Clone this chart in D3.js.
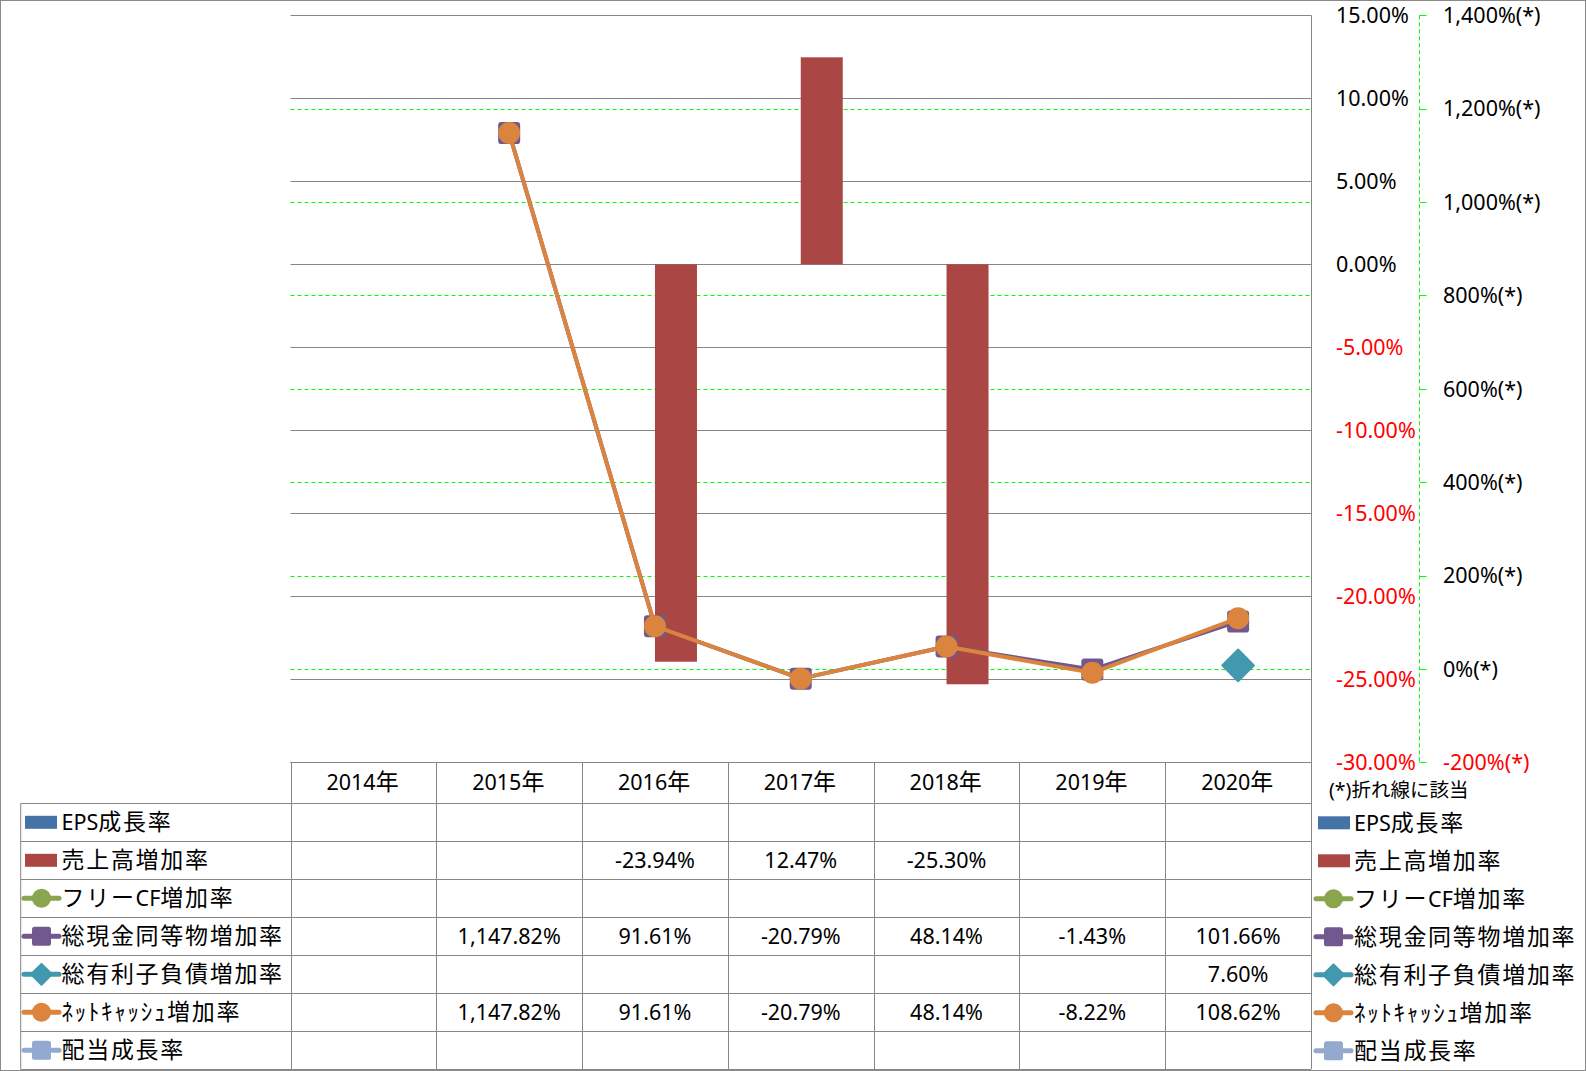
<!DOCTYPE html>
<html><head><meta charset="utf-8">
<script src="https://cdn.jsdelivr.net/npm/d3@7"></script>
<style>html,body{margin:0;padding:0;background:#fff}svg{display:block}</style>
</head><body>
<svg id="c" width="1586" height="1071"></svg>
<script>
// ---------- data ----------
const years = ['2014年','2015年','2016年','2017年','2018年','2019年','2020年'];
const epsGrowth      = [null,null,null,null,null,null,null];
const salesGrowth    = [null,null,-23.94,12.47,-25.30,null,null];
const fcfGrowth      = [null,null,null,null,null,null,null];
const cashGrowth     = [null,1147.82,91.61,-20.79,48.14,-1.43,101.66];
const debtGrowth     = [null,null,null,null,null,null,7.60];
const netCashGrowth  = [null,1147.82,91.61,-20.79,48.14,-8.22,108.62];
const dividendGrowth = [null,null,null,null,null,null,null];
const seriesNames = ['EPS成長率','売上高増加率','フリーCF増加率','総現金同等物増加率','総有利子負債増加率','ﾈｯﾄｷｬｯｼｭ増加率','配当成長率'];
const seriesValues = [epsGrowth,salesGrowth,fcfGrowth,cashGrowth,debtGrowth,netCashGrowth,dividendGrowth];
const seriesColors = ['#4572A7','#AA4643','#89A54E','#71588F','#4198AF','#DB843D','#93A9CF'];
const seriesKinds  = ['bar','bar','circle','square','diamond','circle','square'];
const leftTicks  = [15,10,5,0,-5,-10,-15,-20,-25,-30];
const rightTicks = [1400,1200,1000,800,600,400,200,0,-200];
const footNote = '(*)折れ線に該当';

// ---------- layout ----------
const svg = d3.select('#c');
const plotL = 290.5, plotR = 1311, plotT = 15.3, plotB = 762.3;
const FONT = '"Noto Sans","Noto Sans CJK JP",sans-serif';
const LAT = 21.5, CJK = 23, LS = 1.7;
const loc = d3.formatLocale({decimal: '.', thousands: ',', grouping: [3], currency: ['', ''], minus: '-'});
const fmt2 = loc.format('.2f'), fmtC2 = loc.format(',.2f'), fmtC = loc.format(',');

const x = d3.scaleBand().domain(years).range([plotL, plotR]).padding(0);
const yL = d3.scaleLinear().domain([-30, 15]).range([plotB, plotT]);
const yR = d3.scaleLinear().domain([-200, 1400]).range([plotB, plotT]);
const barW = 42;
const xs = d3.scaleBand().domain([0,1]).range([-barW, barW]);

function rich(sel, str, lat, cjk, ls) {
  const runs = [];
  for (const ch of str) {
    const isC = ch.charCodeAt(0) > 0x2000;
    if (runs.length && runs[runs.length-1].c === isC) runs[runs.length-1].s += ch;
    else runs.push({c: isC, s: ch});
  }
  runs.forEach(r => sel.append('tspan')
    .attr('font-size', r.c ? cjk : lat)
    .attr('letter-spacing', r.c ? ls : 0)
    .text(r.s));
  return sel;
}

// outer border
svg.append('rect').attr('x',0.5).attr('y',0.5).attr('width',1585).attr('height',1070)
  .attr('fill','#fff').attr('stroke','#8a8a8a').attr('stroke-width',1);

const g = svg.append('g').attr('font-family', FONT);

// primary gridlines (gray)
g.append('g').selectAll('line').data(leftTicks).join('line')
  .attr('x1', plotL).attr('x2', plotR)
  .attr('y1', d => Math.round(yL(d)) + 0.5).attr('y2', d => Math.round(yL(d)) + 0.5)
  .attr('stroke', '#868686').attr('stroke-width', 1);

// secondary gridlines (green dashed)
g.append('g').selectAll('line').data(rightTicks.filter(d => d !== 1400)).join('line')
  .attr('x1', plotL).attr('x2', plotR)
  .attr('y1', d => Math.round(yR(d)) + 0.5).attr('y2', d => Math.round(yR(d)) + 0.5)
  .attr('stroke', '#00ff00').attr('stroke-width', 1).attr('stroke-dasharray', '4,3');

// plot right border
g.append('line').attr('x1', plotR + 0.5).attr('x2', plotR + 0.5)
  .attr('y1', plotT).attr('y2', 1069.3).attr('stroke', '#868686');

// left axis labels
g.append('g').selectAll('text').data(leftTicks).join('text')
  .attr('x', 1336).attr('y', d => yL(d) + 7.7)
  .attr('font-size', LAT)
  .attr('fill', d => d < 0 ? '#ff0000' : '#000')
  .text(d => fmt2(d) + '%');

// secondary axis (green dashed line + ticks)
const axX = 1419.5;
g.append('line').attr('x1', axX).attr('x2', axX).attr('y1', plotT).attr('y2', plotB)
  .attr('stroke', '#00ff00').attr('stroke-dasharray', '4,3');
g.append('g').selectAll('line').data(rightTicks).join('line')
  .attr('x1', axX).attr('x2', axX + 7)
  .attr('y1', d => Math.round(yR(d)) + 0.5).attr('y2', d => Math.round(yR(d)) + 0.5)
  .attr('stroke', '#00ff00');
g.append('g').selectAll('text').data(rightTicks).join('text')
  .attr('x', 1443).attr('y', d => yR(d) + 7.7)
  .attr('font-size', LAT)
  .attr('fill', d => d < 0 ? '#ff0000' : '#000')
  .text(d => fmtC(d) + '%(*)');

// bars
[0,1].forEach(si => {
  g.append('g').selectAll('rect')
    .data(years.map((y, i) => ({y, v: seriesValues[si][i]})).filter(d => d.v != null))
    .join('rect')
    .attr('x', d => x(d.y) + x.bandwidth()/2 + xs(si))
    .attr('width', xs.bandwidth())
    .attr('y', d => Math.min(yL(d.v), yL(0)))
    .attr('height', d => Math.abs(yL(d.v) - yL(0)))
    .attr('fill', seriesColors[si]);
});

// marker drawer
function marker(sel, kind, color, size) {
  if (kind === 'circle') {
    sel.append('circle').attr('r', size/2).attr('fill', color);
  } else if (kind === 'square') {
    sel.append('rect').attr('x', -size/2).attr('y', -size/2).attr('width', size).attr('height', size)
      .attr('rx', size*0.14).attr('fill', color);
  } else if (kind === 'diamond') {
    const h = size*0.7;
    sel.append('path').attr('d', d3.symbol().type(d3.symbolSquare).size(h*h*1.0)())
      .attr('transform','rotate(45)').attr('fill', color)
      .attr('stroke', color).attr('stroke-width', 2).attr('stroke-linejoin','round');
  }
}

// lines
const lineGen = d3.line().defined(d => d.v != null)
  .x(d => x(d.y) + x.bandwidth()/2).y(d => yR(d.v));
[2,3,4,5,6].forEach(si => {
  const pts = years.map((y, i) => ({y, v: seriesValues[si][i]}));
  g.append('path').datum(pts).attr('d', lineGen)
    .attr('fill', 'none').attr('stroke', seriesColors[si]).attr('stroke-width', 4)
    .attr('stroke-linejoin', 'round');
  const size = seriesKinds[si] === 'diamond' ? 32 : 22;
  g.append('g').selectAll('g').data(pts.filter(d => d.v != null)).join('g')
    .attr('transform', d => `translate(${x(d.y) + x.bandwidth()/2},${yR(d.v)})`)
    .each(function() { marker(d3.select(this), seriesKinds[si], seriesColors[si], size); });
});

// ---------- data table ----------
const tblL = 20.7, hdrT = 762.3, rowT = 803.3, rowH = 38;
const rows = seriesNames.length;
const tbl = g.append('g');
tbl.append('line').attr('x1', plotL).attr('x2', plotR).attr('y1', hdrT + 0.2).attr('y2', hdrT + 0.2).attr('stroke','#868686');
d3.range(rows + 1).forEach(i => {
  const yy = Math.round(rowT + i*rowH) + 0.5;
  tbl.append('line').attr('x1', tblL).attr('x2', plotR).attr('y1', yy).attr('y2', yy).attr('stroke','#868686');
});
tbl.append('line').attr('x1', tblL).attr('x2', tblL).attr('y1', rowT).attr('y2', rowT + rows*rowH).attr('stroke','#868686');
years.forEach(yv => {
  const xx = Math.round(x(yv)) + 0.5;
  tbl.append('line').attr('x1', xx).attr('x2', xx).attr('y1', hdrT).attr('y2', rowT + rows*rowH).attr('stroke','#868686');
});
years.forEach(yv => {
  rich(tbl.append('text').attr('x', x(yv) + x.bandwidth()/2).attr('y', 782 + 8).attr('text-anchor','middle').attr('fill','#000'),
    yv, LAT, CJK, LS);
});
seriesValues.forEach((vals, r) => {
  vals.forEach((v, i) => {
    if (v == null) return;
    tbl.append('text').attr('x', x(years[i]) + x.bandwidth()/2).attr('y', rowT + r*rowH + rowH/2 + 7.7)
      .attr('text-anchor','middle').attr('font-size', LAT).attr('fill','#000')
      .text(fmtC2(v) + '%');
  });
});

function legendKey(sel, kind, color, x0, cy, lineX1, lineX2, mSize) {
  if (kind === 'bar') {
    sel.append('rect').attr('x', x0).attr('y', cy - 6.5).attr('width', 32).attr('height', 13).attr('fill', color);
  } else {
    sel.append('line').attr('x1', lineX1).attr('x2', lineX2).attr('y1', cy).attr('y2', cy)
      .attr('stroke', color).attr('stroke-width', 5).attr('stroke-linecap','round');
    const m = sel.append('g').attr('transform', `translate(${(lineX1 + lineX2)/2},${cy})`);
    marker(m, kind, color, kind === 'diamond' ? 21 : mSize);
  }
}

seriesNames.forEach((name, r) => {
  const cy = rowT + r*rowH + rowH/2;
  legendKey(tbl, seriesKinds[r], seriesColors[r], 25, cy, 24, 59, 19);
  rich(tbl.append('text').attr('x', 61.5).attr('y', cy + 8).attr('fill','#000'), name, LAT, CJK, LS);
});

const rl = g.append('g');
rich(rl.append('text').attr('x', 1329).attr('y', 797).attr('fill','#000'), footNote, 19.5, 19.5, 0);
seriesNames.forEach((name, r) => {
  const cy = rowT + r*rowH + rowH/2 + 0.5;
  legendKey(rl, seriesKinds[r], seriesColors[r], 1318, cy, 1316, 1351, 19);
  rich(rl.append('text').attr('x', 1354).attr('y', cy + 8).attr('fill','#000'), name, LAT, CJK, LS);
});
</script>
</body></html>
